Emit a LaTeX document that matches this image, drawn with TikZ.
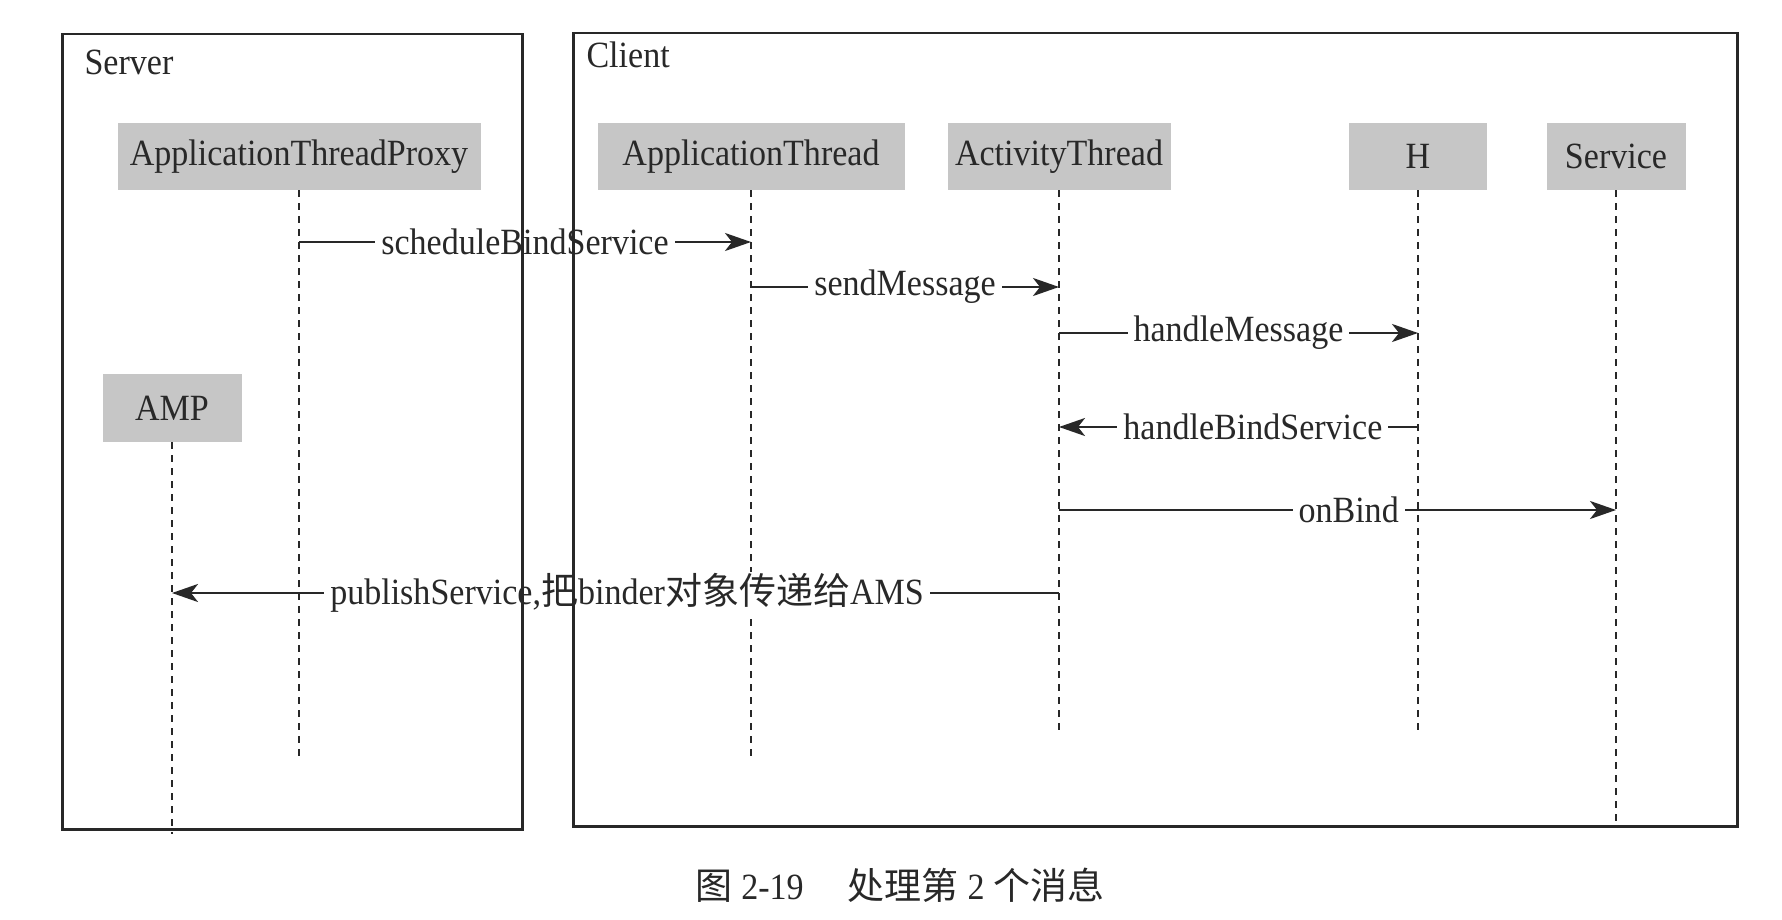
\documentclass[tikz,border=0pt]{standalone}
\usepackage{fontspec}
\setmainfont{Liberation Serif}[FakeStretch=0.92]
\newfontfamily\cjk{Noto Sans CJK SC}
\usetikzlibrary{arrows.meta}
\definecolor{ink}{RGB}{40,40,40}
\definecolor{boxgray}{RGB}{198,198,198}
\begin{document}
\begin{tikzpicture}[x=1pt,y=-1pt,
  every node/.style={font=\fontsize{37}{44}\selectfont, text=ink},
  actor/.style={fill=boxgray, draw=none, minimum height=67pt, inner sep=0pt},
  life/.style={draw=ink, line width=2.5pt, dash pattern=on 7pt off 6pt},
  msg/.style={draw=ink, line width=2.5pt, -{Stealth[length=26pt,width=18pt,inset=7pt]}},
  lbl/.style={fill=white, inner xsep=6pt, inner ysep=1pt},
  frame/.style={draw=ink, line width=2.5pt, inner sep=0pt, anchor=north west}]
\useasboundingbox (0,0) rectangle (1782,920);
\fill[white] (0,0) rectangle (1782,920);

% actors
\node[actor, minimum width=363pt] (atp) at (299,156.5) {ApplicationThreadProxy};
\node[actor, minimum width=139pt, minimum height=68pt] (amp) at (172,408) {AMP};
\node[actor, minimum width=307pt] (at) at (751,156.5) {ApplicationThread};
\node[actor, minimum width=223pt] (act) at (1059,156.5) {ActivityThread};
\node[actor, minimum width=138pt] (h) at (1418,156.5) {H};
\node[actor, minimum width=139pt] (svc) at (1616,156.5) {Service};

% lifeline ends
\coordinate (atpE) at (299,756);
\coordinate (ampE) at (172,834);
\coordinate (atE) at (751,760);
\coordinate (actE) at (1059,736);
\coordinate (hE) at (1418,733);
\coordinate (svcE) at (1616,826);

\draw[life] (atp.south) -- (atpE);
\draw[life] (amp.south) -- (ampE);
\draw[life] (at.south) -- (atE);
\draw[life] (act.south) -- (actE);
\draw[life] (h.south) -- (hE);
\draw[life] (svc.south) -- (svcE);

% messages
\draw[msg] (atp |- 0,242) -- node[lbl] {scheduleBindService} (at |- 0,242);
\draw[msg] (at |- 0,287) -- node[lbl] {sendMessage} (act |- 0,287);
\draw[msg] (act |- 0,333) -- node[lbl] {handleMessage} (h |- 0,333);
\draw[msg] (h |- 0,427) -- node[lbl, pos=0.46] {handleBindService} (act |- 0,427);
\draw[msg] (act |- 0,510) -- node[lbl, pos=0.52] {onBind} (svc |- 0,510);
\draw[msg] (act |- 0,593) -- node[lbl, pos=0.487] {publishService,{\cjk 把}binder{\cjk 对象传递给}AMS} (amp |- 0,593);

% frames
\node[frame, minimum width=460pt, minimum height=795pt] (server) at (61,33) {};
\node[frame, minimum width=1164pt, minimum height=793pt] (client) at (572,32) {};
\node[anchor=base west] (srvlbl) at (81,75) {Server};
\node[anchor=base west] (clilbl) at (583,68) {Client};

% caption
\node (cap) at (900,885) {{\cjk 图}\hspace{9pt}2-19\hspace{44pt}{\cjk 处理第}\hspace{9pt}2\hspace{9pt}{\cjk 个消息}};
\end{tikzpicture}
\end{document}
